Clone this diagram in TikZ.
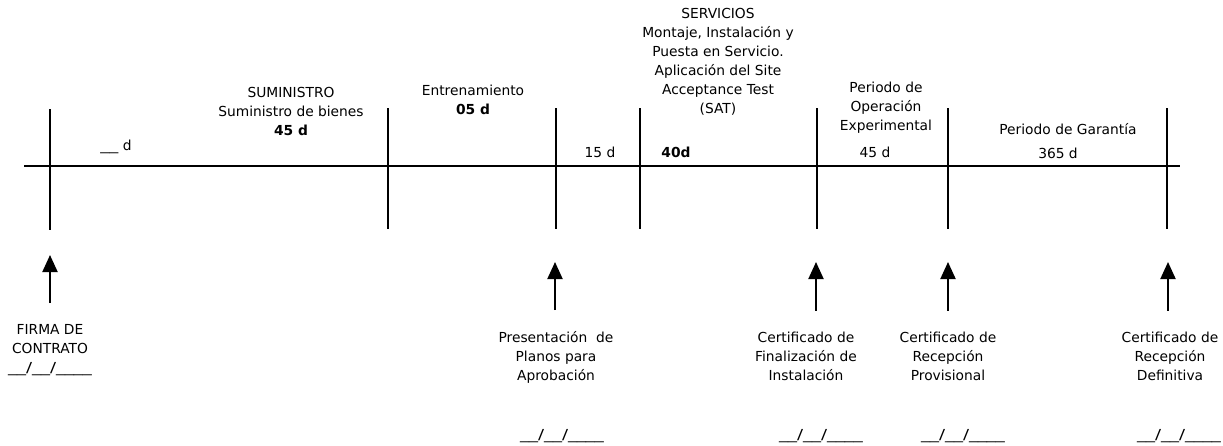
\documentclass[tikz,border=0pt]{standalone}
\usepackage{fontspec}
\setmainfont{DejaVu Sans}
\newfontfamily\fechafont[FakeStretch=1.3]{DejaVu Sans}
\usetikzlibrary{arrows.meta}
\newcommand{\fecha}{{\fechafont\_\_/\_\_/\_\_\_\_}}

\begin{document}
\begin{tikzpicture}[
x=1pt, y=-1pt,
font=\fontsize{13.8}{19}\selectfont,
eje/.style={line width=1.6pt},
marca/.style={line width=1.6pt},
flecha/.style={line width=2pt, -{Triangle[width=15pt,length=17pt]}, shorten <=21pt},
texto/.style={inner sep=0pt, align=center}
]

\useasboundingbox (0,0) rectangle (1223,445);

%%%%%%%%%%%%%%%%%%%%%%%%%%%%%%%%%%%%%%%%%%%%%%%%%%%%%%
% TIME AXIS
%%%%%%%%%%%%%%%%%%%%%%%%%%%%%%%%%%%%%%%%%%%%%%%%%%%%%%

\coordinate (inicio) at (24,166);
\coordinate (fin) at (1180,166);

\coordinate (tFirma) at (50,166);
\coordinate (tSuministro) at (388,166);
\coordinate (tPlanos) at (556,166);
\coordinate (tServicios) at (640,166);
\coordinate (tFinal) at (817,166);
\coordinate (tProvisional) at (948,166);
\coordinate (tDefinitiva) at (1167,166);

\draw[eje] (inicio) -- (fin);

\draw[marca] ([yshift=57pt]tFirma) -- ([yshift=-64pt]tFirma);
\draw[marca] ([yshift=58pt]tSuministro) -- ([yshift=-63pt]tSuministro);
\draw[marca] ([yshift=58pt]tPlanos) -- ([yshift=-63pt]tPlanos);
\draw[marca] ([yshift=58pt]tServicios) -- ([yshift=-63pt]tServicios);
\draw[marca] ([yshift=58pt]tFinal) -- ([yshift=-63pt]tFinal);
\draw[marca] ([yshift=58pt]tProvisional) -- ([yshift=-63pt]tProvisional);
\draw[marca] ([yshift=58pt]tDefinitiva) -- ([yshift=-63pt]tDefinitiva);

%%%%%%%%%%%%%%%%%%%%%%%%%%%%%%%%%%%%%%%%%%%%%%%%%%%%%%
% PHASES
%%%%%%%%%%%%%%%%%%%%%%%%%%%%%%%%%%%%%%%%%%%%%%%%%%%%%%

\node[
texto,
anchor=base
](plazo)
at (116,150)
{{\fechafont\_\_} d};

\node[
texto,
anchor=north
](suministro)
at (291,87)
{SUMINISTRO\\Suministro de bienes\\\textbf{45 d}};

\node[
texto,
anchor=north
](entrena)
at (473,85)
{Entrenamiento\\\textbf{05 d}};

\node[
texto,
anchor=base
](quince)
at (600,157)
{15 d};

\node[
texto,
anchor=north
](servicios)
at (718,8)
{SERVICIOS\\Montaje, Instalación y\\Puesta en Servicio.\\Aplicación del Site\\Acceptance Test\\(SAT)};

\node[
texto,
anchor=base
](cuarenta)
at (676,157)
{\textbf{40d}};

\node[
texto,
anchor=north
](operacion)
at (886,81.5)
{Periodo de\\Operación\\Experimental};

\node[
texto,
anchor=base
](cuarentaycinco)
at (875,157)
{45 d};

\node[
texto,
anchor=base
](garantia)
at (1068,134)
{Periodo de Garantía};

\node[
texto,
anchor=base
](anual)
at (1058,158)
{365 d};

%%%%%%%%%%%%%%%%%%%%%%%%%%%%%%%%%%%%%%%%%%%%%%%%%%%%%%
% MILESTONES
%%%%%%%%%%%%%%%%%%%%%%%%%%%%%%%%%%%%%%%%%%%%%%%%%%%%%%

\coordinate (hitoA) at (50,255);
\coordinate (hitoB) at (555,262);
\coordinate (hitoC) at (816,262);
\coordinate (hitoD) at (948,262);
\coordinate (hitoE) at (1168,262);

\node[
texto,
anchor=north
](firma)
at (50,324)
{FIRMA DE\\CONTRATO\\\fecha};

\node[
texto,
anchor=north
](planos)
at (556,331)
{Presentación\ \ de\\Planos para\\Aprobación};

\node[
texto,
anchor=north
](finaliz)
at (806,331.5)
{Certificado de\\Finalización de\\Instalación};

\node[
texto,
anchor=north
](provisional)
at (948,331.5)
{Certificado de\\Recepción\\Provisional};

\node[
texto,
anchor=north
](definitiva)
at (1170,331.5)
{Certificado de\\Recepción\\Definitiva};

\node[texto, anchor=base](fechaB) at (562,439) {\fecha};
\node[texto, anchor=base](fechaC) at (821,439) {\fecha};
\node[texto, anchor=base](fechaD) at (963,439) {\fecha};
\node[texto, anchor=base](fechaE) at (1179,439) {\fecha};

%%%%%%%%%%%%%%%%%%%%%%%%%%%%%%%%%%%%%%%%%%%%%%%%%%%%%%
% ARROWS
%%%%%%%%%%%%%%%%%%%%%%%%%%%%%%%%%%%%%%%%%%%%%%%%%%%%%%

\draw[flecha] (hitoA |- firma.north) -- (hitoA);

\draw[flecha] (hitoB |- planos.north) -- (hitoB);

\draw[flecha] (hitoC |- finaliz.north) -- (hitoC);

\draw[flecha] (hitoD |- provisional.north) -- (hitoD);

\draw[flecha] (hitoE |- definitiva.north) -- (hitoE);

\end{tikzpicture}
\end{document}
